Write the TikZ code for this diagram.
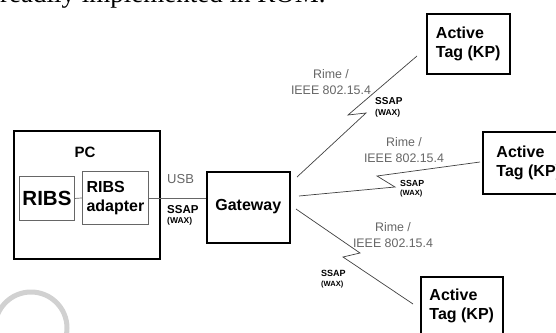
\documentclass[tikz,border=0pt]{standalone}
\usepackage{fontspec}
\setmainfont{Liberation Sans}
\newfontfamily\serifx{Liberation Serif}
\begin{document}
\begin{tikzpicture}[x=1pt,y=-1pt,
  bigbox/.style={draw=black, line width=1.8pt, inner sep=0pt, anchor=north west},
  tagbox/.style={draw=black, line width=1.5pt, inner sep=0pt, anchor=north west, align=left,
     font=\bfseries\fontsize{16}{19}\selectfont},
  smallbox/.style={draw=black!60, line width=0.9pt, inner sep=0pt, anchor=north west, align=left},
  link/.style={draw=black!75, line width=0.7pt},
  graylbl/.style={text=black!60, inner sep=0pt, align=center, font=\fontsize{12.4}{16}\selectfont},
  ssap/.style={inner sep=0pt, anchor=west, font=\bfseries},
  wm/.style={draw=black!18, line width=5pt}
]
\useasboundingbox (0,0) rectangle (556,332);
\clip (0,0) rectangle (556,332);

% clipped text of the page above
\node[anchor=base west, inner sep=0pt, font=\serifx\fontsize{27}{30}\selectfont] (toptext) at (0,2) {readily implemented in ROM.};

% watermark arc
\draw[wm] (31,328) circle[radius=36];

% PC
\node[bigbox, minimum width=146pt, minimum height=128pt] (pc) at (13,130) {};
\node[inner sep=0pt, font=\bfseries\fontsize{15}{18}\selectfont] (pclabel) at (85,152) {PC};
\node[smallbox, minimum width=55pt, minimum height=44pt, font=\bfseries\fontsize{20.5}{24}\selectfont] (ribs) at (19,176) {RIBS};
\node[smallbox, minimum width=66pt, minimum height=53pt, font=\bfseries\fontsize{16}{19}\selectfont] (adapter) at (82,171) {RIBS\\adapter};

% Gateway
\node[bigbox, line width=1.5pt, minimum width=83pt, minimum height=71pt, font=\bfseries\fontsize{16}{19}\selectfont] (gateway) at (206,171) {\raisebox{5pt}{Gateway}};

% Tags
\node[tagbox, minimum width=83pt, minimum height=60pt] (tag1) at (426,13) {Active\\Tag (KP)};
\node[tagbox, minimum width=92pt, minimum height=62pt] (tag2) at (482,131) {Active\\Tag (KP)};
\node[tagbox, minimum width=82pt, minimum height=58pt] (tag3) at (420,276) {Active\\Tag (KP)};

% wired links
\draw[link, draw=black!60] (ribs.east) -- (adapter.west);
\draw[link, draw=black!60] (adapter.east) -- (adapter.east -| gateway.west);
\node[text=black!60, inner sep=0pt, anchor=west, font=\fontsize{13}{15}\selectfont] (usb) at (167,179) {USB};
\node[ssap, font=\bfseries\fontsize{11.5}{13}\selectfont] (ssap0) at (167,210) {SSAP};
\node[ssap, font=\bfseries\fontsize{8.5}{10}\selectfont] (wax0) at (167,221) {(WAX)};

% radio links (lightning)
\coordinate (g1) at (297,177);
\coordinate (z1a) at (366,113);
\coordinate (z1b) at (348,115);
\coordinate (t1) at (417,56);
\draw[link] (g1) -- (z1a) -- (z1b) -- (t1);

\coordinate (g2) at (299,196);
\coordinate (z2a) at (395,187);
\coordinate (z2b) at (377,176);
\coordinate (t2) at (480,162);
\draw[link] (g2) -- (z2a) -- (z2b) -- (t2);

\coordinate (g3) at (296,209);
\coordinate (z3a) at (360,253);
\coordinate (z3b) at (343,257);
\coordinate (t3) at (413,304);
\draw[link] (g3) -- (z3a) -- (z3b) -- (t3);

% radio labels
\node[graylbl] (rime1) at (331,82.5) {Rime /\\IEEE 802.15.4};
\node[graylbl] (rime2) at (404,150.5) {Rime /\\IEEE 802.15.4};
\node[graylbl] (rime3) at (393,235) {Rime /\\IEEE 802.15.4};

\node[ssap, font=\bfseries\fontsize{10}{12}\selectfont] (ssap1) at (375,101) {SSAP};
\node[ssap, font=\bfseries\fontsize{8.5}{10}\selectfont] (wax1) at (375,113) {(WAX)};
\node[ssap, font=\bfseries\fontsize{8.8}{10}\selectfont] (ssap2) at (400,183) {SSAP};
\node[ssap, font=\bfseries\fontsize{7.5}{9}\selectfont] (wax2) at (400,194) {(WAX)};
\node[ssap, font=\bfseries\fontsize{9}{10}\selectfont] (ssap3) at (321,273) {SSAP};
\node[ssap, font=\bfseries\fontsize{7.5}{9}\selectfont] (wax3) at (321,285) {(WAX)};
\end{tikzpicture}
\end{document}
